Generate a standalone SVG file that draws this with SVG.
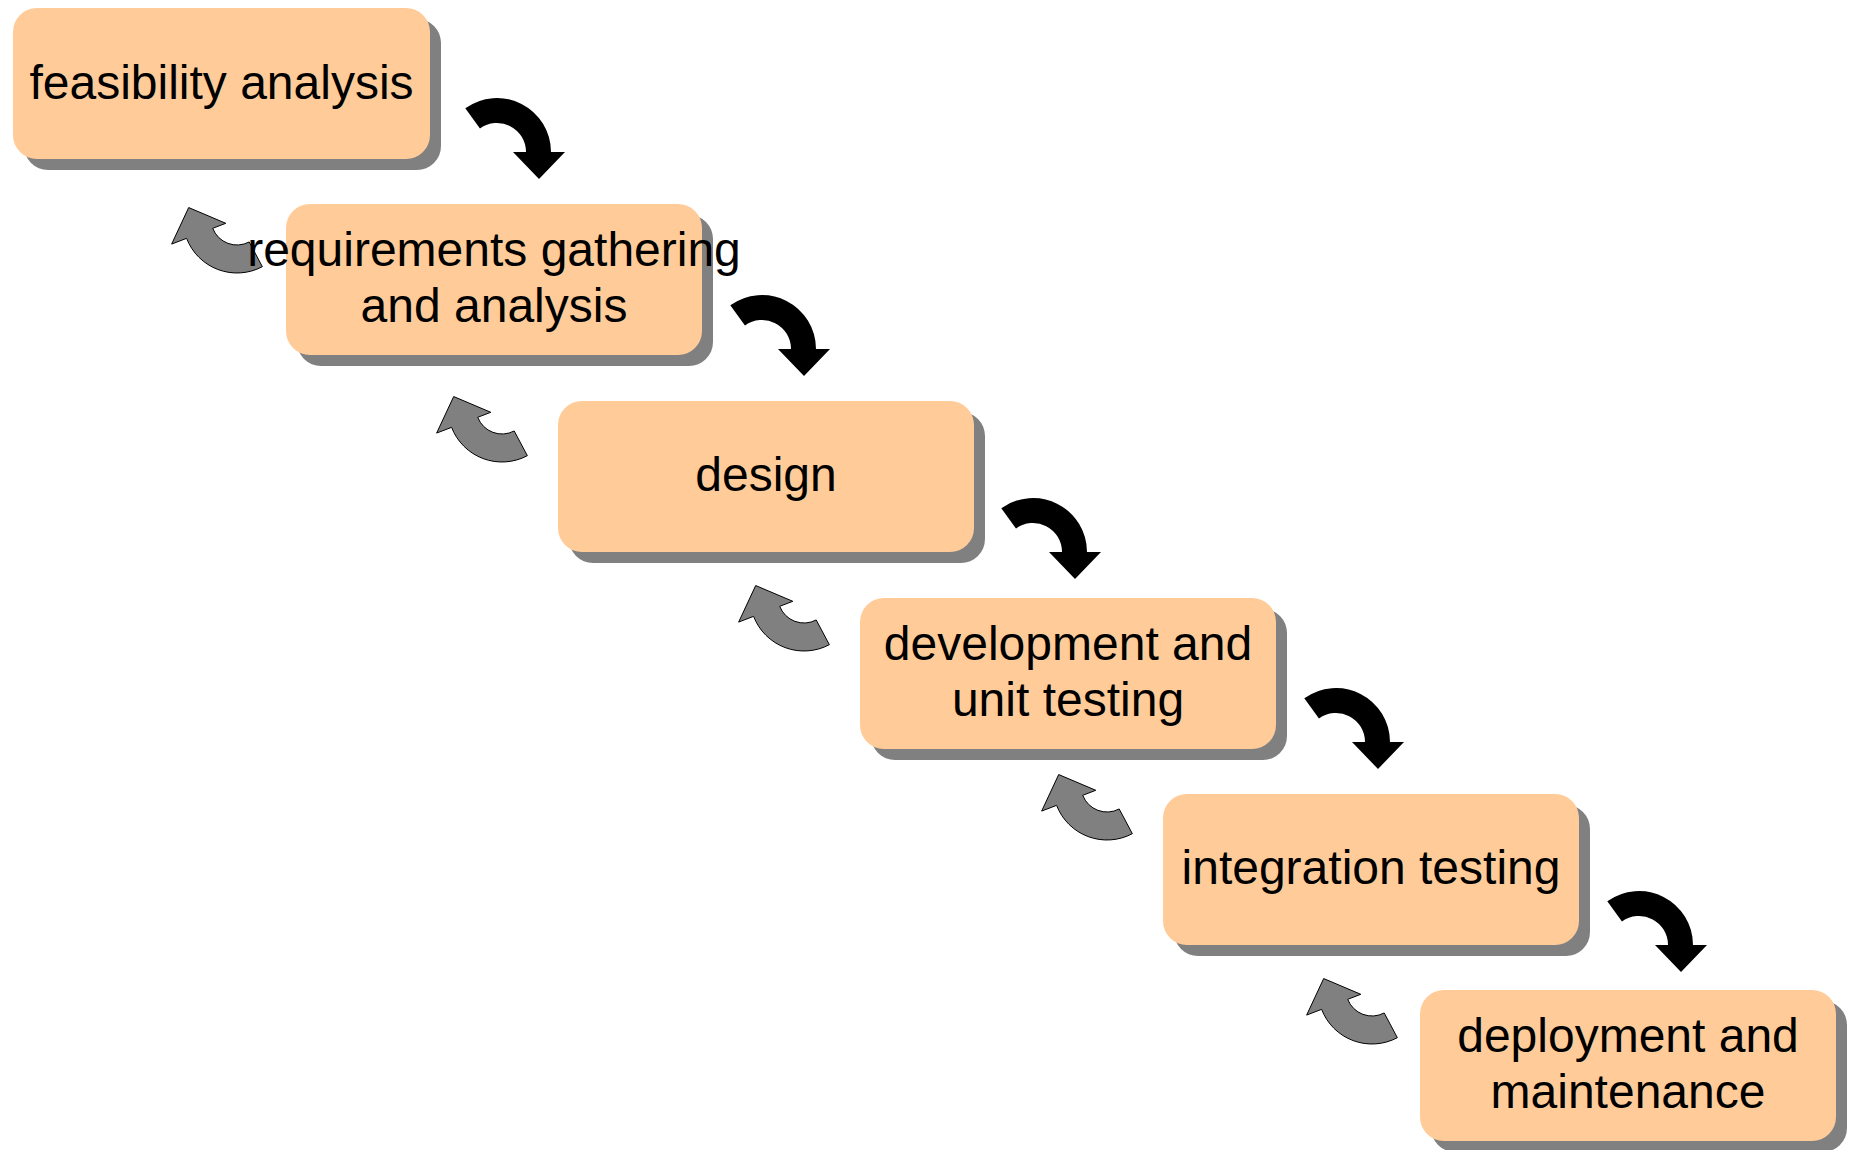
<svg xmlns="http://www.w3.org/2000/svg" width="1851" height="1150" viewBox="0 0 1851 1150">
<style>
.sh{fill:#808080}
.bx{fill:#FFCC99}
.t{font-family:"Liberation Sans",Arial,sans-serif;font-size:48px;fill:#000;text-anchor:middle}
.fw{fill:#000}
.bk{fill:#808080;stroke:#000;stroke-width:1;stroke-linejoin:miter}
</style>
<defs>
<path id="fwd" d="M -31.7,-43.7 A 54 54 0 0 1 54,0 L 68,0 L 42,27 L 16,0 L 29,0 A 29 29 0 0 0 -17.05,-23.46 Z"/>
<path id="back" d="M 25.35,47.68 A 54 54 0 0 1 -50.41,19.35 L -65.35,25.09 L -48.32,-11.45 L -11.2,4.3 L -24.27,9.32 A 26 26 0 0 0 12.2,22.96 Z"/>
</defs>
<rect width="1851" height="1150" fill="#fff"/>
<g id="connectors">
<use href="#fwd" class="fw" x="497" y="152"/>
<use href="#fwd" class="fw" x="762" y="349"/>
<use href="#fwd" class="fw" x="1033" y="552"/>
<use href="#fwd" class="fw" x="1336" y="742"/>
<use href="#fwd" class="fw" x="1639" y="945"/>
<use href="#back" class="bk" x="237" y="219"/>
<use href="#back" class="bk" x="502" y="408"/>
<use href="#back" class="bk" x="804" y="597"/>
<use href="#back" class="bk" x="1107" y="786"/>
<use href="#back" class="bk" x="1372" y="990"/>
</g>
<g id="n1">
<rect class="sh" x="24" y="19" width="417" height="151" rx="24"/>
<rect class="bx" x="13" y="8" width="417" height="151" rx="24"/>
<text class="t" x="221.5" y="99">feasibility analysis</text>
</g>
<g id="n2">
<rect class="sh" x="297" y="215" width="416" height="151" rx="24"/>
<rect class="bx" x="286" y="204" width="416" height="151" rx="24"/>
<text class="t" x="494" y="266">requirements gathering</text>
<text class="t" x="494" y="322">and analysis</text>
</g>
<g id="n3">
<rect class="sh" x="569" y="412" width="416" height="151" rx="24"/>
<rect class="bx" x="558" y="401" width="416" height="151" rx="24"/>
<text class="t" x="766" y="491">design</text>
</g>
<g id="n4">
<rect class="sh" x="871" y="609" width="416" height="151" rx="24"/>
<rect class="bx" x="860" y="598" width="416" height="151" rx="24"/>
<text class="t" x="1068" y="660">development and</text>
<text class="t" x="1068" y="716">unit testing</text>
</g>
<g id="n5">
<rect class="sh" x="1174" y="805" width="416" height="151" rx="24"/>
<rect class="bx" x="1163" y="794" width="416" height="151" rx="24"/>
<text class="t" x="1371" y="884">integration testing</text>
</g>
<g id="n6">
<rect class="sh" x="1431" y="1001" width="416" height="151" rx="24"/>
<rect class="bx" x="1420" y="990" width="416" height="151" rx="24"/>
<text class="t" x="1628" y="1052">deployment and</text>
<text class="t" x="1628" y="1108">maintenance</text>
</g>
</svg>
